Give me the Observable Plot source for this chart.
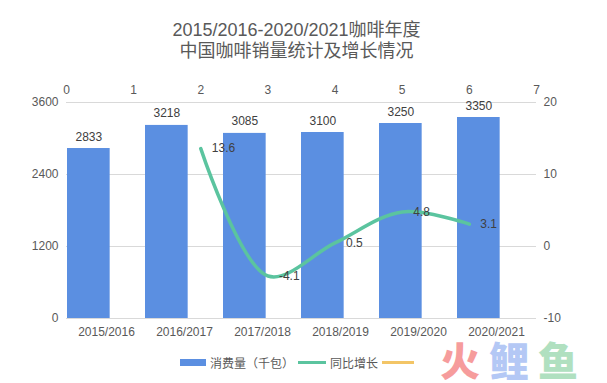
<!DOCTYPE html>
<html>
<head>
<meta charset="utf-8">
<script src="https://cdn.jsdelivr.net/npm/d3@7"></script>
<script src="https://cdn.jsdelivr.net/npm/@observablehq/plot@0.6"></script>
<style>
  html, body { margin: 0; padding: 0; background: #fff; }
  #wrap { position: relative; width: 607px; height: 383px; overflow: hidden;
    font-family: "Liberation Sans", Arial, "Noto Sans CJK SC", sans-serif; color: #595959; }
  #title { position: absolute; left: 0; top: 20px; width: 593px; text-align: center;
    font-size: 18px; line-height: 21px; color: #595959; }
  .layer { position: absolute; left: 0; top: 72px; }
  #legend { position: absolute; top: 354px; left: 180px; height: 16px; display: flex; align-items: center;
    font-size: 12px; color: #595959; font-family: "Noto Sans CJK SC", sans-serif; }
  .sw { display: inline-block; }
  #wm { position: absolute; left: 440px; top: 340px; height: 39px; display: flex; gap: 9px;
    font-family: "Noto Sans CJK SC", sans-serif; font-weight: 900; font-size: 40px; opacity: 0.75; white-space: nowrap; }
  #wm span { display: block; height: 39px; line-height: 39px; overflow: visible; }
</style>
</head>
<body>
<div id="wrap">
  <div id="title">2015/2016-2020/2021咖啡年度<br>中国咖啡销量统计及增长情况</div>
  <div id="p1" class="layer"></div>
  <div id="p2" class="layer"></div>
  <div id="legend"></div>
  <div id="wm"><span style="color:#f47c7c">火</span><span style="color:#9bb6f2">鲤</span><span style="color:#96d6ac">鱼</span></div>
</div>
<script>
const categories = ["2015/2016", "2016/2017", "2017/2018", "2018/2019", "2019/2020", "2020/2021"];
const sales = [2833, 3218, 3085, 3100, 3250, 3350];
const growthX = [2, 3, 4, 5, 6];
const growth = [13.6, -4.1, 0.5, 4.8, 3.1];
const leftTicks = [0, 1200, 2400, 3600];
const rightTicks = [-10, 0, 10, 20];
const topTicks = [0, 1, 2, 3, 4, 5, 6, 7];
const seriesNames = ["消费量（千包）", "同比增长", ""];

const BAR = "#5b8fe1", LINE = "#5bc49f", ORANGE = "#f3c566";
const W = 607, H = 278, ML = 66, MR = 71, MT = 30, MB = 32;
const font = "\"Liberation Sans\", Arial, \"Noto Sans CJK SC\", sans-serif";
const band = (W - ML - MR) / categories.length;
const barW = 43;

const barData = categories.map((c, i) => ({cat: c, v: sales[i]}));
const lineData = growthX.map((x, i) => ({x, v: growth[i]}));

const p1 = Plot.plot({
  width: W, height: H, marginLeft: ML, marginRight: MR, marginTop: MT, marginBottom: MB,
  style: {fontSize: "12px", fontFamily: font, color: "#595959", background: "transparent"},
  x: {domain: categories, padding: 0, label: null, tickSize: 0, tickPadding: 9},
  y: {domain: [0, 3600], ticks: leftTicks, label: null, tickSize: 0, tickPadding: 8, tickFormat: d => String(d)},
  marks: [
    Plot.ruleY(leftTicks, {stroke: "#d9d9d9", strokeWidth: 1}),
    Plot.barY(barData, {x: "cat", y: "v", fill: BAR, insetLeft: 0, insetRight: band - barW}),
    Plot.text(barData, {x: "cat", y: "v", text: d => String(d.v), dx: -(band / 2 - barW / 2), dy: -8,
      lineAnchor: "bottom", fill: "#404040", fontSize: 12})
  ]
});
document.getElementById("p1").appendChild(p1);

const p2 = Plot.plot({
  width: W, height: H, marginLeft: ML, marginRight: MR, marginTop: MT, marginBottom: MB,
  style: {fontSize: "12px", fontFamily: font, color: "#595959", background: "transparent"},
  x: {domain: [0, 7], ticks: topTicks, axis: "top", label: null, tickSize: 0, tickPadding: 9, tickFormat: d => String(d)},
  y: {domain: [-10, 20], ticks: rightTicks, axis: "right", label: null, tickSize: 0, tickPadding: 7, tickFormat: d => String(d)},
  marks: [
    Plot.line(lineData, {x: "x", y: "v", stroke: LINE, strokeWidth: 3.5, curve: "catmull-rom"}),
    Plot.text(lineData, {x: "x", y: "v", text: d => String(d.v), dx: 11, textAnchor: "start",
      fill: "#404040", fontSize: 12})
  ]
});
document.getElementById("p2").appendChild(p2);

const legend = document.getElementById("legend");
const sw = [
  {w: 26, h: 7, c: BAR},
  {w: 28, h: 3, c: LINE},
  {w: 32, h: 3, c: ORANGE}
];
seriesNames.forEach((name, i) => {
  const s = document.createElement("span");
  s.className = "sw";
  s.style.width = sw[i].w + "px";
  s.style.height = sw[i].h + "px";
  s.style.background = sw[i].c;
  s.style.marginLeft = i === 0 ? "0px" : "4px";
  s.style.marginRight = "4px";
  legend.appendChild(s);
  if (name) {
    const t = document.createElement("span");
    t.textContent = name;
    legend.appendChild(t);
  }
});
</script>
</body>
</html>
